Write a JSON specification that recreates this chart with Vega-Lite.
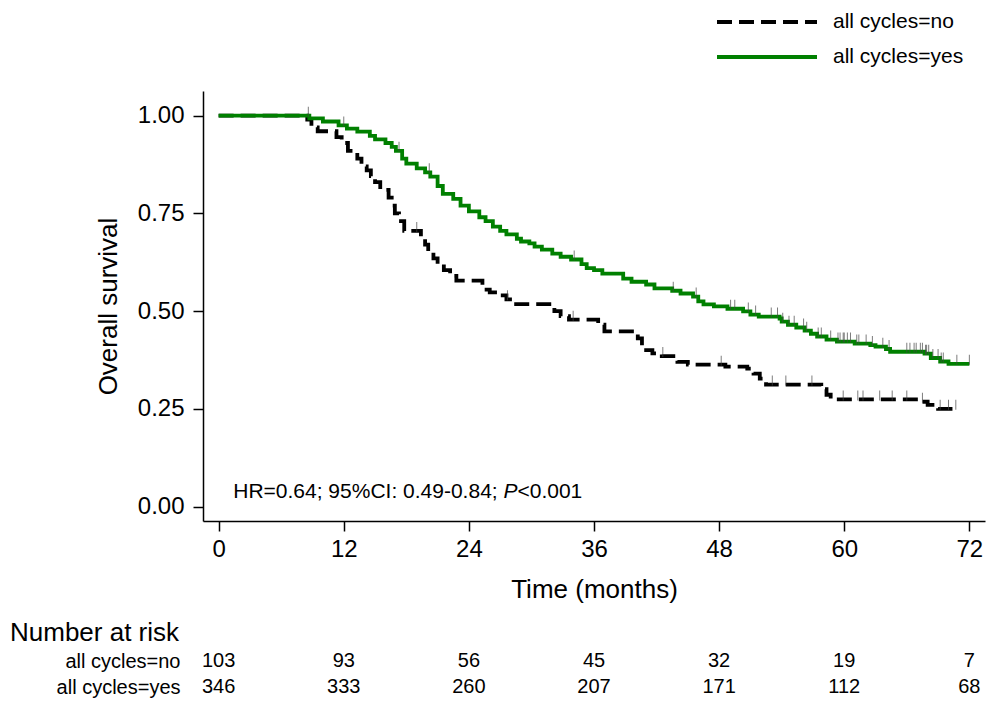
{
  "$schema": "https://vega.github.io/schema/vega-lite/v6.json",
  "background": "white",
  "padding": {"left": 10, "top": 10, "right": 5, "bottom": 0},
  "config": {
    "view": {"stroke": null},
    "font": "Liberation Sans",
    "axis": {
      "domainColor": "#000000", "domainWidth": 1.5, "tickColor": "#000000", "tickWidth": 1.5, "tickSize": 10,
      "labelColor": "#000000", "titleColor": "#000000", "labelFont": "Liberation Sans", "titleFont": "Liberation Sans",
      "grid": false, "labelFontSize": 24, "titleFontSize": 26, "titleFontWeight": "normal", "labelFlush": false, "labelOverlap": false
    }
  },
  "datasets": {
    "km": [
      {"group": "all cycles=no", "time": 0, "surv": 1, "cens": 0},
      {"group": "all cycles=no", "time": 8.5, "surv": 0.99, "cens": 0},
      {"group": "all cycles=no", "time": 8.9, "surv": 0.97, "cens": 0},
      {"group": "all cycles=no", "time": 9.5, "surv": 0.96, "cens": 0},
      {"group": "all cycles=no", "time": 11.3, "surv": 0.945, "cens": 0},
      {"group": "all cycles=no", "time": 11.8, "surv": 0.93, "cens": 0},
      {"group": "all cycles=no", "time": 12.4, "surv": 0.91, "cens": 0},
      {"group": "all cycles=no", "time": 13.3, "surv": 0.89, "cens": 0},
      {"group": "all cycles=no", "time": 13.7, "surv": 0.87, "cens": 0},
      {"group": "all cycles=no", "time": 14.2, "surv": 0.86, "cens": 0},
      {"group": "all cycles=no", "time": 14.6, "surv": 0.845, "cens": 0},
      {"group": "all cycles=no", "time": 15.0, "surv": 0.83, "cens": 0},
      {"group": "all cycles=no", "time": 15.5, "surv": 0.81, "cens": 0},
      {"group": "all cycles=no", "time": 16.3, "surv": 0.79, "cens": 0},
      {"group": "all cycles=no", "time": 16.6, "surv": 0.77, "cens": 0},
      {"group": "all cycles=no", "time": 16.9, "surv": 0.75, "cens": 0},
      {"group": "all cycles=no", "time": 17.3, "surv": 0.73, "cens": 0},
      {"group": "all cycles=no", "time": 17.8, "surv": 0.705, "cens": 0},
      {"group": "all cycles=no", "time": 19.0, "surv": 0.705, "cens": 1},
      {"group": "all cycles=no", "time": 19.4, "surv": 0.69, "cens": 0},
      {"group": "all cycles=no", "time": 19.8, "surv": 0.67, "cens": 0},
      {"group": "all cycles=no", "time": 20.1, "surv": 0.65, "cens": 0},
      {"group": "all cycles=no", "time": 20.6, "surv": 0.635, "cens": 0},
      {"group": "all cycles=no", "time": 21.0, "surv": 0.62, "cens": 0},
      {"group": "all cycles=no", "time": 21.6, "surv": 0.605, "cens": 0},
      {"group": "all cycles=no", "time": 22.2, "surv": 0.59, "cens": 0},
      {"group": "all cycles=no", "time": 22.8, "surv": 0.578, "cens": 0},
      {"group": "all cycles=no", "time": 25.3, "surv": 0.555, "cens": 0},
      {"group": "all cycles=no", "time": 26.0, "surv": 0.548, "cens": 0},
      {"group": "all cycles=no", "time": 27.0, "surv": 0.54, "cens": 0},
      {"group": "all cycles=no", "time": 27.6, "surv": 0.53, "cens": 0},
      {"group": "all cycles=no", "time": 27.7, "surv": 0.53, "cens": 1},
      {"group": "all cycles=no", "time": 28.3, "surv": 0.518, "cens": 0},
      {"group": "all cycles=no", "time": 32.2, "surv": 0.5, "cens": 0},
      {"group": "all cycles=no", "time": 32.8, "surv": 0.487, "cens": 0},
      {"group": "all cycles=no", "time": 33.6, "surv": 0.478, "cens": 0},
      {"group": "all cycles=no", "time": 34.0, "surv": 0.478, "cens": 1},
      {"group": "all cycles=no", "time": 36.4, "surv": 0.465, "cens": 0},
      {"group": "all cycles=no", "time": 37.0, "surv": 0.448, "cens": 0},
      {"group": "all cycles=no", "time": 40.2, "surv": 0.43, "cens": 0},
      {"group": "all cycles=no", "time": 40.6, "surv": 0.41, "cens": 0},
      {"group": "all cycles=no", "time": 41.0, "surv": 0.4, "cens": 0},
      {"group": "all cycles=no", "time": 41.6, "surv": 0.392, "cens": 0},
      {"group": "all cycles=no", "time": 42.5, "surv": 0.385, "cens": 0},
      {"group": "all cycles=no", "time": 42.6, "surv": 0.385, "cens": 1},
      {"group": "all cycles=no", "time": 44.0, "surv": 0.37, "cens": 0},
      {"group": "all cycles=no", "time": 45.0, "surv": 0.363, "cens": 0},
      {"group": "all cycles=no", "time": 48.2, "surv": 0.363, "cens": 1},
      {"group": "all cycles=no", "time": 48.6, "surv": 0.358, "cens": 0},
      {"group": "all cycles=no", "time": 50.7, "surv": 0.353, "cens": 0},
      {"group": "all cycles=no", "time": 51.3, "surv": 0.34, "cens": 0},
      {"group": "all cycles=no", "time": 51.9, "surv": 0.327, "cens": 0},
      {"group": "all cycles=no", "time": 52.5, "surv": 0.312, "cens": 0},
      {"group": "all cycles=no", "time": 53.1, "surv": 0.312, "cens": 1},
      {"group": "all cycles=no", "time": 54.4, "surv": 0.312, "cens": 1},
      {"group": "all cycles=no", "time": 56.9, "surv": 0.312, "cens": 1},
      {"group": "all cycles=no", "time": 57.8, "surv": 0.3, "cens": 0},
      {"group": "all cycles=no", "time": 58.3, "surv": 0.286, "cens": 0},
      {"group": "all cycles=no", "time": 58.7, "surv": 0.274, "cens": 0},
      {"group": "all cycles=no", "time": 59.9, "surv": 0.274, "cens": 1},
      {"group": "all cycles=no", "time": 61.3, "surv": 0.274, "cens": 1},
      {"group": "all cycles=no", "time": 61.8, "surv": 0.274, "cens": 1},
      {"group": "all cycles=no", "time": 63.4, "surv": 0.274, "cens": 1},
      {"group": "all cycles=no", "time": 64.6, "surv": 0.274, "cens": 1},
      {"group": "all cycles=no", "time": 66.0, "surv": 0.274, "cens": 1},
      {"group": "all cycles=no", "time": 67.4, "surv": 0.268, "cens": 0},
      {"group": "all cycles=no", "time": 67.5, "surv": 0.268, "cens": 1},
      {"group": "all cycles=no", "time": 68.0, "surv": 0.26, "cens": 0},
      {"group": "all cycles=no", "time": 69.0, "surv": 0.25, "cens": 0},
      {"group": "all cycles=no", "time": 69.2, "surv": 0.25, "cens": 1},
      {"group": "all cycles=no", "time": 70.0, "surv": 0.25, "cens": 1},
      {"group": "all cycles=no", "time": 70.7, "surv": 0.25, "cens": 1},
      {"group": "all cycles=yes", "time": 0, "surv": 1, "cens": 0},
      {"group": "all cycles=yes", "time": 8.6, "surv": 1, "cens": 1},
      {"group": "all cycles=yes", "time": 8.7, "surv": 0.993, "cens": 0},
      {"group": "all cycles=yes", "time": 10.0, "surv": 0.985, "cens": 0},
      {"group": "all cycles=yes", "time": 11.5, "surv": 0.975, "cens": 0},
      {"group": "all cycles=yes", "time": 12.0, "surv": 0.975, "cens": 1},
      {"group": "all cycles=yes", "time": 12.3, "surv": 0.967, "cens": 0},
      {"group": "all cycles=yes", "time": 13.3, "surv": 0.959, "cens": 0},
      {"group": "all cycles=yes", "time": 14.5, "surv": 0.948, "cens": 0},
      {"group": "all cycles=yes", "time": 15.0, "surv": 0.939, "cens": 0},
      {"group": "all cycles=yes", "time": 16.0, "surv": 0.93, "cens": 0},
      {"group": "all cycles=yes", "time": 16.6, "surv": 0.92, "cens": 0},
      {"group": "all cycles=yes", "time": 17.0, "surv": 0.91, "cens": 0},
      {"group": "all cycles=yes", "time": 17.3, "surv": 0.91, "cens": 1},
      {"group": "all cycles=yes", "time": 17.6, "surv": 0.89, "cens": 0},
      {"group": "all cycles=yes", "time": 18.0, "surv": 0.877, "cens": 0},
      {"group": "all cycles=yes", "time": 19.0, "surv": 0.865, "cens": 0},
      {"group": "all cycles=yes", "time": 19.8, "surv": 0.855, "cens": 0},
      {"group": "all cycles=yes", "time": 20.2, "surv": 0.855, "cens": 1},
      {"group": "all cycles=yes", "time": 20.3, "surv": 0.844, "cens": 0},
      {"group": "all cycles=yes", "time": 21.0, "surv": 0.82, "cens": 0},
      {"group": "all cycles=yes", "time": 21.5, "surv": 0.8, "cens": 0},
      {"group": "all cycles=yes", "time": 22.5, "surv": 0.787, "cens": 0},
      {"group": "all cycles=yes", "time": 23.2, "surv": 0.77, "cens": 0},
      {"group": "all cycles=yes", "time": 24.0, "surv": 0.755, "cens": 0},
      {"group": "all cycles=yes", "time": 25.0, "surv": 0.74, "cens": 0},
      {"group": "all cycles=yes", "time": 25.6, "surv": 0.73, "cens": 0},
      {"group": "all cycles=yes", "time": 26.3, "surv": 0.716, "cens": 0},
      {"group": "all cycles=yes", "time": 27.0, "surv": 0.705, "cens": 0},
      {"group": "all cycles=yes", "time": 27.6, "surv": 0.696, "cens": 0},
      {"group": "all cycles=yes", "time": 28.6, "surv": 0.685, "cens": 0},
      {"group": "all cycles=yes", "time": 29.0, "surv": 0.678, "cens": 0},
      {"group": "all cycles=yes", "time": 29.8, "surv": 0.673, "cens": 0},
      {"group": "all cycles=yes", "time": 30.3, "surv": 0.665, "cens": 0},
      {"group": "all cycles=yes", "time": 31.0, "surv": 0.657, "cens": 0},
      {"group": "all cycles=yes", "time": 32.0, "surv": 0.647, "cens": 0},
      {"group": "all cycles=yes", "time": 32.8, "surv": 0.639, "cens": 0},
      {"group": "all cycles=yes", "time": 33.8, "surv": 0.632, "cens": 0},
      {"group": "all cycles=yes", "time": 34.1, "surv": 0.632, "cens": 1},
      {"group": "all cycles=yes", "time": 34.8, "surv": 0.62, "cens": 0},
      {"group": "all cycles=yes", "time": 35.3, "surv": 0.61, "cens": 0},
      {"group": "all cycles=yes", "time": 36.0, "surv": 0.605, "cens": 0},
      {"group": "all cycles=yes", "time": 36.8, "surv": 0.596, "cens": 0},
      {"group": "all cycles=yes", "time": 38.8, "surv": 0.583, "cens": 0},
      {"group": "all cycles=yes", "time": 39.6, "surv": 0.575, "cens": 0},
      {"group": "all cycles=yes", "time": 41.0, "surv": 0.568, "cens": 0},
      {"group": "all cycles=yes", "time": 41.8, "surv": 0.558, "cens": 0},
      {"group": "all cycles=yes", "time": 43.5, "surv": 0.552, "cens": 0},
      {"group": "all cycles=yes", "time": 43.6, "surv": 0.552, "cens": 1},
      {"group": "all cycles=yes", "time": 44.3, "surv": 0.545, "cens": 0},
      {"group": "all cycles=yes", "time": 45.5, "surv": 0.537, "cens": 0},
      {"group": "all cycles=yes", "time": 45.8, "surv": 0.537, "cens": 1},
      {"group": "all cycles=yes", "time": 46.0, "surv": 0.525, "cens": 0},
      {"group": "all cycles=yes", "time": 46.5, "surv": 0.517, "cens": 0},
      {"group": "all cycles=yes", "time": 47.5, "surv": 0.512, "cens": 0},
      {"group": "all cycles=yes", "time": 48.8, "surv": 0.506, "cens": 0},
      {"group": "all cycles=yes", "time": 49.1, "surv": 0.506, "cens": 1},
      {"group": "all cycles=yes", "time": 49.5, "surv": 0.506, "cens": 1},
      {"group": "all cycles=yes", "time": 50.3, "surv": 0.499, "cens": 0},
      {"group": "all cycles=yes", "time": 50.8, "surv": 0.499, "cens": 1},
      {"group": "all cycles=yes", "time": 51.0, "surv": 0.491, "cens": 0},
      {"group": "all cycles=yes", "time": 51.5, "surv": 0.491, "cens": 1},
      {"group": "all cycles=yes", "time": 51.8, "surv": 0.486, "cens": 0},
      {"group": "all cycles=yes", "time": 53.0, "surv": 0.486, "cens": 1},
      {"group": "all cycles=yes", "time": 53.6, "surv": 0.486, "cens": 1},
      {"group": "all cycles=yes", "time": 53.8, "surv": 0.481, "cens": 0},
      {"group": "all cycles=yes", "time": 54.0, "surv": 0.473, "cens": 0},
      {"group": "all cycles=yes", "time": 54.1, "surv": 0.473, "cens": 1},
      {"group": "all cycles=yes", "time": 54.6, "surv": 0.465, "cens": 0},
      {"group": "all cycles=yes", "time": 54.7, "surv": 0.465, "cens": 1},
      {"group": "all cycles=yes", "time": 55.2, "surv": 0.465, "cens": 1},
      {"group": "all cycles=yes", "time": 55.4, "surv": 0.458, "cens": 0},
      {"group": "all cycles=yes", "time": 56.1, "surv": 0.458, "cens": 1},
      {"group": "all cycles=yes", "time": 56.2, "surv": 0.45, "cens": 0},
      {"group": "all cycles=yes", "time": 56.4, "surv": 0.45, "cens": 1},
      {"group": "all cycles=yes", "time": 56.8, "surv": 0.442, "cens": 0},
      {"group": "all cycles=yes", "time": 57.4, "surv": 0.435, "cens": 0},
      {"group": "all cycles=yes", "time": 57.5, "surv": 0.435, "cens": 1},
      {"group": "all cycles=yes", "time": 57.8, "surv": 0.435, "cens": 1},
      {"group": "all cycles=yes", "time": 58.3, "surv": 0.427, "cens": 0},
      {"group": "all cycles=yes", "time": 58.7, "surv": 0.427, "cens": 1},
      {"group": "all cycles=yes", "time": 59.3, "surv": 0.422, "cens": 0},
      {"group": "all cycles=yes", "time": 59.4, "surv": 0.422, "cens": 1},
      {"group": "all cycles=yes", "time": 59.6, "surv": 0.422, "cens": 1},
      {"group": "all cycles=yes", "time": 59.9, "surv": 0.422, "cens": 1},
      {"group": "all cycles=yes", "time": 60.0, "surv": 0.422, "cens": 1},
      {"group": "all cycles=yes", "time": 60.3, "surv": 0.422, "cens": 1},
      {"group": "all cycles=yes", "time": 60.6, "surv": 0.422, "cens": 1},
      {"group": "all cycles=yes", "time": 61.0, "surv": 0.417, "cens": 0},
      {"group": "all cycles=yes", "time": 61.2, "surv": 0.417, "cens": 1},
      {"group": "all cycles=yes", "time": 61.4, "surv": 0.417, "cens": 1},
      {"group": "all cycles=yes", "time": 62.1, "surv": 0.417, "cens": 1},
      {"group": "all cycles=yes", "time": 62.5, "surv": 0.413, "cens": 0},
      {"group": "all cycles=yes", "time": 62.7, "surv": 0.413, "cens": 1},
      {"group": "all cycles=yes", "time": 63.0, "surv": 0.409, "cens": 0},
      {"group": "all cycles=yes", "time": 63.7, "surv": 0.409, "cens": 1},
      {"group": "all cycles=yes", "time": 64.0, "surv": 0.403, "cens": 0},
      {"group": "all cycles=yes", "time": 64.3, "surv": 0.403, "cens": 1},
      {"group": "all cycles=yes", "time": 64.4, "surv": 0.396, "cens": 0},
      {"group": "all cycles=yes", "time": 66.0, "surv": 0.396, "cens": 1},
      {"group": "all cycles=yes", "time": 66.3, "surv": 0.396, "cens": 1},
      {"group": "all cycles=yes", "time": 66.7, "surv": 0.396, "cens": 1},
      {"group": "all cycles=yes", "time": 66.9, "surv": 0.396, "cens": 1},
      {"group": "all cycles=yes", "time": 67.3, "surv": 0.396, "cens": 1},
      {"group": "all cycles=yes", "time": 67.5, "surv": 0.396, "cens": 1},
      {"group": "all cycles=yes", "time": 67.7, "surv": 0.391, "cens": 0},
      {"group": "all cycles=yes", "time": 67.8, "surv": 0.391, "cens": 1},
      {"group": "all cycles=yes", "time": 67.9, "surv": 0.391, "cens": 1},
      {"group": "all cycles=yes", "time": 68.1, "surv": 0.391, "cens": 1},
      {"group": "all cycles=yes", "time": 68.3, "surv": 0.38, "cens": 0},
      {"group": "all cycles=yes", "time": 68.5, "surv": 0.38, "cens": 1},
      {"group": "all cycles=yes", "time": 69.0, "surv": 0.38, "cens": 1},
      {"group": "all cycles=yes", "time": 69.2, "surv": 0.371, "cens": 0},
      {"group": "all cycles=yes", "time": 69.3, "surv": 0.371, "cens": 1},
      {"group": "all cycles=yes", "time": 69.5, "surv": 0.371, "cens": 1},
      {"group": "all cycles=yes", "time": 70.0, "surv": 0.365, "cens": 0},
      {"group": "all cycles=yes", "time": 70.8, "surv": 0.365, "cens": 1},
      {"group": "all cycles=yes", "time": 72.0, "surv": 0.365, "cens": 1}
    ],
    "risk": [
      {"group": "all cycles=no", "time": 0, "n": 103},
      {"group": "all cycles=no", "time": 12, "n": 93},
      {"group": "all cycles=no", "time": 24, "n": 56},
      {"group": "all cycles=no", "time": 36, "n": 45},
      {"group": "all cycles=no", "time": 48, "n": 32},
      {"group": "all cycles=no", "time": 60, "n": 19},
      {"group": "all cycles=no", "time": 72, "n": 7},
      {"group": "all cycles=yes", "time": 0, "n": 346},
      {"group": "all cycles=yes", "time": 12, "n": 333},
      {"group": "all cycles=yes", "time": 24, "n": 260},
      {"group": "all cycles=yes", "time": 36, "n": 207},
      {"group": "all cycles=yes", "time": 48, "n": 171},
      {"group": "all cycles=yes", "time": 60, "n": 112},
      {"group": "all cycles=yes", "time": 72, "n": 68}
    ],
    "one": [{}]
  },
  "spacing": 18,
  "vconcat": [
    {
      "width": 782,
      "height": 430,
      "layer": [
        {
          "data": {"name": "km"},
          "mark": {"type": "line", "interpolate": "step-after", "strokeWidth": 3.8},
          "encoding": {
            "x": {"field": "time", "type": "quantitative",
              "scale": {"domain": [-1.5, 73.5], "nice": false, "zero": false},
              "axis": {"values": [0, 12, 24, 36, 48, 60, 72], "title": "Time (months)", "labelPadding": 6, "titlePadding": 15}},
            "y": {"field": "surv", "type": "quantitative",
              "scale": {"domain": [-0.037, 1.063], "nice": false, "zero": false},
              "axis": {"values": [0, 0.25, 0.5, 0.75, 1], "format": ".2f", "title": "Overall survival", "labelPadding": 9, "titlePadding": 16}},
            "color": {"field": "group", "type": "nominal",
              "scale": {"domain": ["all cycles=no", "all cycles=yes"], "range": ["#000000", "#008000"]},
              "legend": {"title": null, "orient": "none", "legendX": 552, "legendY": -81, "symbolType": "M-5,0H5", "symbolSize": 400, "symbolStrokeWidth": 4, "labelFontSize": 21, "labelFont": "Liberation Sans", "labelColor": "#000000", "labelOffset": 54, "rowPadding": 13, "padding": 0}},
            "strokeDash": {"field": "group", "type": "nominal",
              "scale": {"domain": ["all cycles=no", "all cycles=yes"], "range": [[15, 7], [1, 0]]},
              "legend": {"title": null, "orient": "none", "legendX": 552, "legendY": -81, "symbolType": "M-5,0H5", "symbolSize": 400, "symbolStrokeWidth": 4, "labelFontSize": 21, "labelFont": "Liberation Sans", "labelColor": "#000000", "labelOffset": 54, "rowPadding": 13, "padding": 0}}
          }
        },
        {
          "data": {"name": "km"},
          "transform": [{"filter": "datum.cens == 1"}],
          "mark": {"type": "tick", "orient": "vertical", "size": 10, "thickness": 1, "color": "#444444", "yOffset": -4},
          "encoding": {
            "x": {"field": "time", "type": "quantitative"},
            "y": {"field": "surv", "type": "quantitative"}
          }
        },
        {
          "data": {"name": "one"},
          "mark": {"type": "text", "text": "HR=0.64; 95%CI: 0.49-0.84;", "align": "left", "baseline": "middle", "fontSize": 21, "font": "Liberation Sans", "color": "#000000"},
          "encoding": {"x": {"datum": 1.4, "type": "quantitative"}, "y": {"datum": 0.037, "type": "quantitative"}}
        },
        {
          "data": {"name": "one"},
          "mark": {"type": "text", "text": "P", "align": "left", "baseline": "middle", "fontSize": 21, "font": "Liberation Sans", "fontStyle": "italic", "color": "#000000"},
          "encoding": {"x": {"datum": 27.32, "type": "quantitative"}, "y": {"datum": 0.037, "type": "quantitative"}}
        },
        {
          "data": {"name": "one"},
          "mark": {"type": "text", "text": "<0.001", "align": "left", "baseline": "middle", "fontSize": 21, "font": "Liberation Sans", "color": "#000000"},
          "encoding": {"x": {"datum": 28.66, "type": "quantitative"}, "y": {"datum": 0.037, "type": "quantitative"}}
        }
      ]
    },
    {
      "width": 782,
      "height": 52,
      "data": {"name": "risk"},
      "title": {"text": "Number at risk", "anchor": "start", "frame": "group", "dx": -193, "fontSize": 26, "fontWeight": "normal", "font": "Liberation Sans", "color": "#000000", "offset": 2},
      "mark": {"type": "text", "font": "Liberation Sans", "fontSize": 20, "color": "#000000", "baseline": "middle"},
      "encoding": {
        "x": {"field": "time", "type": "quantitative", "scale": {"domain": [-1.5, 73.5], "nice": false, "zero": false}, "axis": null},
        "y": {"field": "group", "type": "nominal", "sort": ["all cycles=no", "all cycles=yes"],
          "axis": {"title": null, "ticks": false, "domain": false, "labelPadding": 23, "labelFont": "Liberation Sans", "labelFontSize": 20}},
        "text": {"field": "n", "type": "quantitative"}
      }
    }
  ]
}
